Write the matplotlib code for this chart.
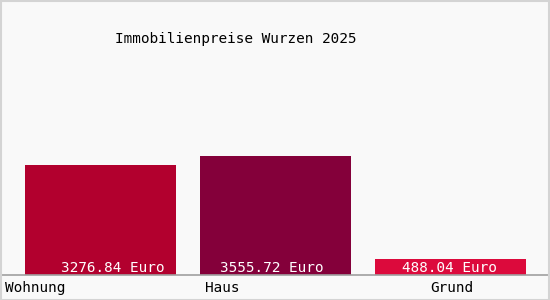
import matplotlib.pyplot as plt
from matplotlib.patches import Rectangle

categories = ['Wohnung', 'Haus', 'Grund']
prices = [3276.84, 3555.72, 488.04]
value_labels = ['3276.84 Euro', '3555.72 Euro', '488.04 Euro']
colors = ['#b2002e', '#84003a', '#dc0a3c']

W, H = 550, 300
fig = plt.figure(figsize=(W / 100, H / 100), dpi=100)
fig.patch.set_facecolor('#f9f9f9')

# axes: baseline at 275 px from top, spans the full width
ax = fig.add_axes([0, 25 / H, 1, 275 / H])
ax.set_facecolor('none')
units_per_px = 3555.72 / 119
ax.set_xlim(-100.5 / 175, (W - 100.5) / 175)
ax.set_ylim(0, 275 * units_per_px)
ax.bar(range(len(categories)), prices, width=151 / 175, color=colors)
for s in ['top', 'right', 'left']:
    ax.spines[s].set_visible(False)
ax.spines['bottom'].set_color('#a0a0a0')
ax.spines['bottom'].set_linewidth(1.2)
ax.set_xticks([])
ax.set_yticks([])

mono = 'DejaVu Sans Mono'
fs = 10.4

fig.text(115 / W, 1 - 39 / H, 'Immobilienpreise Wurzen 2025', family=mono,
         fontsize=fs, ha='left', va='center', color='#000000')

# value labels inside the bars
val_x = [113, 272, 449]
for x, t in zip(val_x, value_labels):
    fig.text(x / W, 1 - 268 / H, t, family=mono, fontsize=fs, color='white',
             ha='center', va='center')

# category labels
cat_pos = [(5, 'left'), (205, 'left'), (452, 'center')]
for (x, ha), c in zip(cat_pos, categories):
    fig.text(x / W, 1 - 288 / H, c, family=mono, fontsize=fs, color='black',
             ha=ha, va='center')

fig.patches.append(Rectangle((0.5 / W, 0.5 / H), 1 - 1.5 / W, 1 - 1.5 / H,
                             transform=fig.transFigure, fill=False,
                             edgecolor='#d4d4d4', linewidth=1.5))

fig.savefig('out.png', dpi=100, facecolor=fig.get_facecolor())
